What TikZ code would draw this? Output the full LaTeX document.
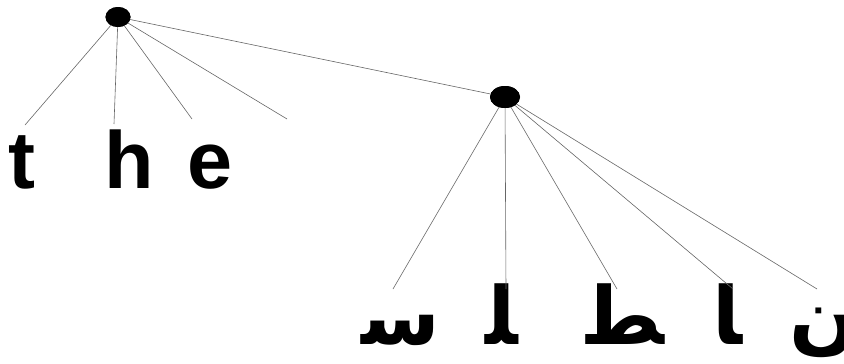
\documentclass[tikz,border=0pt]{standalone}
\usepackage{fontspec}
\setmainfont{Liberation Sans}
\newfontfamily\arabicfont[Script=Arabic]{DejaVu Sans}
\TeXXeTstate=1
\usetikzlibrary{shapes.geometric}
\tikzset{
  knot/.style={ellipse,fill=black,inner sep=0pt},
  branch/.style={draw=black!60,line width=0.6pt},
  latin/.style={anchor=base,inner sep=0pt,font=\fontsize{81}{90}\selectfont\bfseries},
  arab/.style={anchor=base,inner sep=0pt,font=\fontsize{80}{90}\selectfont\arabicfont\bfseries}
}
\begin{document}
\begin{tikzpicture}[x=1pt,y=-1pt]
    \useasboundingbox (0,0) rectangle (844,364);
    % the two knots
    \node[knot,minimum width=25,minimum height=20] (root) at (118,17) {};
    \node[knot,minimum width=30,minimum height=22] (word) at (505,97) {};
    % english letters
    \node[latin] (t) at (22,188) {t};
    \node[latin] (h) at (129,188) {h};
    \node[latin] (e) at (210,188) {e};
    \coordinate (tend) at (25,125);
    \coordinate (hend) at (114,124);
    \coordinate (eend) at (192,119);
    \coordinate (blank) at (287,119);
    % arabic letters
    \node[arab] (s) at (401,344) {\beginR ﺳ\endR};
    \node[arab] (l) at (502,344) {\beginR ﻠ\endR};
    \node[arab] (tt) at (625,344) {\beginR ﻄ\endR};
    \node[arab] (a) at (728,344) {\beginR ﺎ\endR};
    \node[arab] (n) at (824,344) {\beginR ﻥ\endR};
    \coordinate (send) at (393,289);
    \coordinate (lend) at (506,289);
    \coordinate (ttend) at (617,289);
    \coordinate (aend) at (733,289);
    \coordinate (nend) at (817,289);
    % branches
    \foreach \x in {tend,hend,eend,blank,word}
        \draw[branch] (root.center) -- (\x);
    \foreach \x in {send,lend,ttend,aend,nend}
        \draw[branch] (word.center) -- (\x);
    \node[knot,minimum width=25,minimum height=20] at (root) {};
    \node[knot,minimum width=30,minimum height=22] at (word) {};
\end{tikzpicture}
\end{document}
